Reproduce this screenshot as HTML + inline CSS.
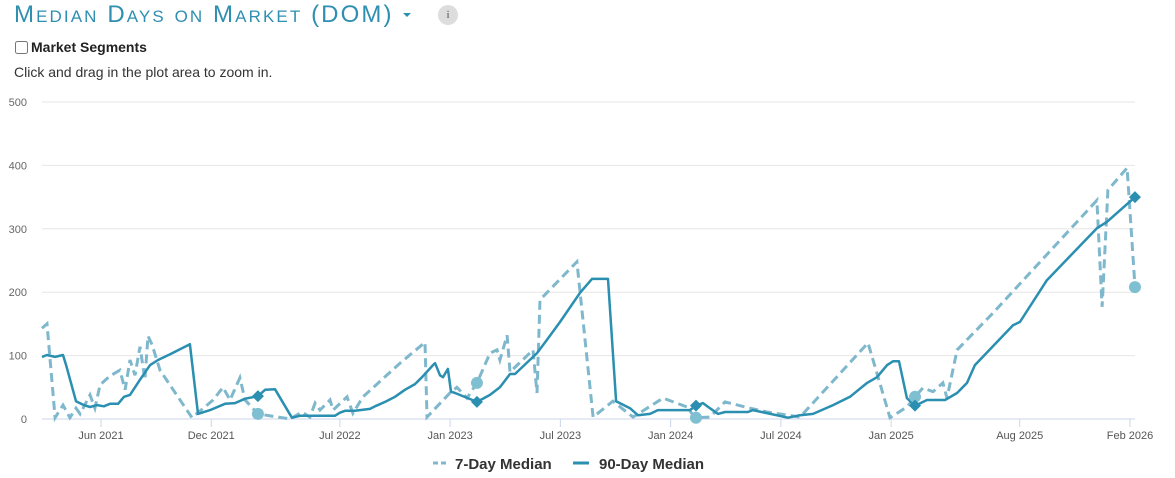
<!DOCTYPE html>
<html><head><meta charset="utf-8"><style>
body{margin:0;width:1175px;height:478px;background:#fff;font-family:"Liberation Sans",sans-serif;overflow:hidden;position:relative}
#title{position:absolute;left:14px;top:1px;font-size:24px;color:#2e8fb0;font-variant:small-caps;letter-spacing:2.1px;white-space:nowrap}
#caret{position:absolute;left:403px;top:13px;width:0;height:0;border-left:4px solid transparent;border-right:4px solid transparent;border-top:4px solid #2e8fb0}
#info{position:absolute;left:438px;top:5px;width:20px;height:20px;border-radius:50%;background:#ddd;color:#888;font-size:11px;text-align:center;line-height:20px;font-family:"Liberation Serif",serif;font-weight:bold}
#seg{position:absolute;left:15px;top:39px;font-size:14px;font-weight:bold;color:#222;display:flex;align-items:center}
#seg input{margin:0 3px 0 0;width:13px;height:13px}
#hint{position:absolute;left:14px;top:64px;font-size:14px;color:#333}
svg{position:absolute;left:0;top:0}
</style></head><body>
<div id="title">Median Days on Market (DOM)</div>
<div id="caret"></div>
<div id="info">i</div>
<label id="seg"><input type="checkbox">Market Segments</label>
<div id="hint">Click and drag in the plot area to zoom in.</div>
<svg id="chart" width="1175" height="478"></svg>
<script>
// time in months since Jan 2021 (fractional)
const yTicks=[0,100,200,300,400,500];
const xTickLabels=["Jun 2021","Dec 2021","Jul 2022","Jan 2023","Jul 2023","Jan 2024","Jul 2024","Jan 2025","Aug 2025","Feb 2026"];
const xTickMonths=[5,11,18,24,30,36,42,48,55,61];
const d90Months=[1.79,2.06,2.5,2.93,3.1,3.64,4.07,4.4,4.78,5.16,5.49,5.93,6.25,6.58,7.12,7.67,8.1,8.76,9.84,10.28,10.93,11.75,12.29,12.84,13.54,13.93,14.47,15.39,15.83,17.73,18.0,18.28,18.82,19.64,19.91,20.46,21.0,21.54,22.09,22.47,23.07,23.18,23.45,23.61,23.88,24.05,24.27,25.46,26.17,26.71,27.26,27.53,28.73,29.27,29.98,31.07,31.72,32.59,33.03,33.79,34.22,34.88,35.31,37.05,37.38,37.76,38.14,38.58,38.96,40.21,40.48,42.39,43.04,43.75,44.84,45.76,46.69,47.23,47.78,48.1,48.43,48.86,49.3,49.95,50.93,51.59,52.13,52.56,54.63,55.01,56.48,59.2,59.75,61.27];
const d90Values=[98,101,98,101,85,28,22,19,22,20,24,24,35,38,62,85,93,102,118,8,14,24,25,32,36,46,47,2,5,5,10,13,13,16,20,27,35,46,55,66,85,88,69,66,79,43,41,27,38,50,71,71,104,125,153,199,221,221,28,17,6,8,14,14,21,25,17,8,11,11,14,2,6,8,22,35,57,66,85,91,91,33,21,30,30,41,57,85,148,153,219,301,311,350];
const d7Months=[1.79,2.06,2.5,2.93,3.31,3.64,3.86,4.4,4.67,4.95,5.49,6.03,6.31,6.58,6.85,7.12,7.39,7.56,7.78,8.21,9.95,11.1,11.64,12.02,12.56,12.84,13.54,15.29,15.94,16.37,16.65,16.92,17.46,17.63,18.39,18.71,19.26,21.27,22.63,22.74,23.99,24.37,24.92,25.46,26.17,26.55,26.71,27.1,27.26,28.51,28.73,28.89,30.9,31.78,32.86,33.95,35.59,36.89,37.33,38.14,38.96,40.32,41.24,43.04,46.74,47.94,48.86,49.3,49.73,50.28,50.82,51.04,51.59,53.54,59.2,59.48,59.8,60.84,61.27];
const d7Values=[143,150,2,22,2,17,8,38,17,54,68,77,46,93,69,114,62,131,117,77,2,30,50,30,65,30,8,0,11,3,25,14,30,14,35,9,35,88,121,3,41,50,33,57,104,109,93,132,74,109,41,188,248,3,28,3,33,19,2,3,27,17,11,3,120,2,19,35,49,43,57,33,109,167,345,177,361,396,208];
const markerMonths=[13.54,25.46,37.38,49.3,61.27];
const d90MarkerValues=[36,27,21,21,350];
const d7MarkerValues=[8,57,2,35,208];

const NS="http://www.w3.org/2000/svg",svg=document.getElementById('chart');
const X0=42,X1=1135,Y0=419,Y1=102;
const x=t=>101+(t-5)*18.375;
const y=v=>Y0-(v/500)*(Y0-Y1);
function mk(tag,attrs,parent){const e=document.createElementNS(NS,tag);for(const k in attrs)e.setAttribute(k,attrs[k]);(parent||svg).appendChild(e);return e;}
yTicks.forEach(v=>{
  const g=mk('line',{x1:X0,x2:X1,y1:y(v),y2:y(v),stroke:v===0?'#ccd6eb':'#e6e6e6','stroke-width':1});
  
  
  const t=mk('text',{x:27,y:y(v)+4,'text-anchor':'end','font-size':11,fill:'#666'});t.textContent=v;
  
  
});
xTickMonths.forEach((m,i)=>{
  const l=mk('line',{x1:x(m),x2:x(m),y1:Y0,y2:Y0+8,stroke:'#ccd6eb'});
  
  
  const t=mk('text',{x:x(m),y:Y0+20,'text-anchor':'middle','font-size':11,fill:'#555'});t.textContent=xTickLabels[i];
  
  
});
const p7=mk('path',{d:d7Months.map((m,i)=>(i?'L':'M')+x(m).toFixed(1)+','+y(d7Values[i]).toFixed(1)).join(''),fill:'none',stroke:'#7fb8cc','stroke-width':3,'stroke-dasharray':'9,5'});


const p90=mk('path',{d:d90Months.map((m,i)=>(i?'L':'M')+x(m).toFixed(1)+','+y(d90Values[i]).toFixed(1)).join(''),fill:'none',stroke:'#2a8fb0','stroke-width':2.5,'stroke-linejoin':'round'});


markerMonths.forEach((m,i)=>{
  const c=mk('circle',{cx:x(m),cy:y(d7MarkerValues[i]),r:6,fill:'#7fbfd2'});
  
  
  const cx=x(m),cy=y(d90MarkerValues[i]);
  const d=mk('path',{d:`M${cx},${cy-6}L${cx+6},${cy}L${cx},${cy+6}L${cx-6},${cy}Z`,fill:'#2a8fb0'});
  
  
});
const lg1=mk('line',{x1:433,x2:446,y1:463,y2:463,stroke:'#7fb8cc','stroke-width':3,'stroke-dasharray':'5,3'});


const lt1=mk('text',{x:455,y:469,'font-size':15,'font-weight':'bold',fill:'#333'});lt1.textContent='7-Day Median';


const lg2=mk('line',{x1:573,x2:589,y1:463,y2:463,stroke:'#2a8fb0','stroke-width':3});


const lt2=mk('text',{x:599,y:469,'font-size':15,'font-weight':'bold',fill:'#333'});lt2.textContent='90-Day Median';


</script>
</body></html>
